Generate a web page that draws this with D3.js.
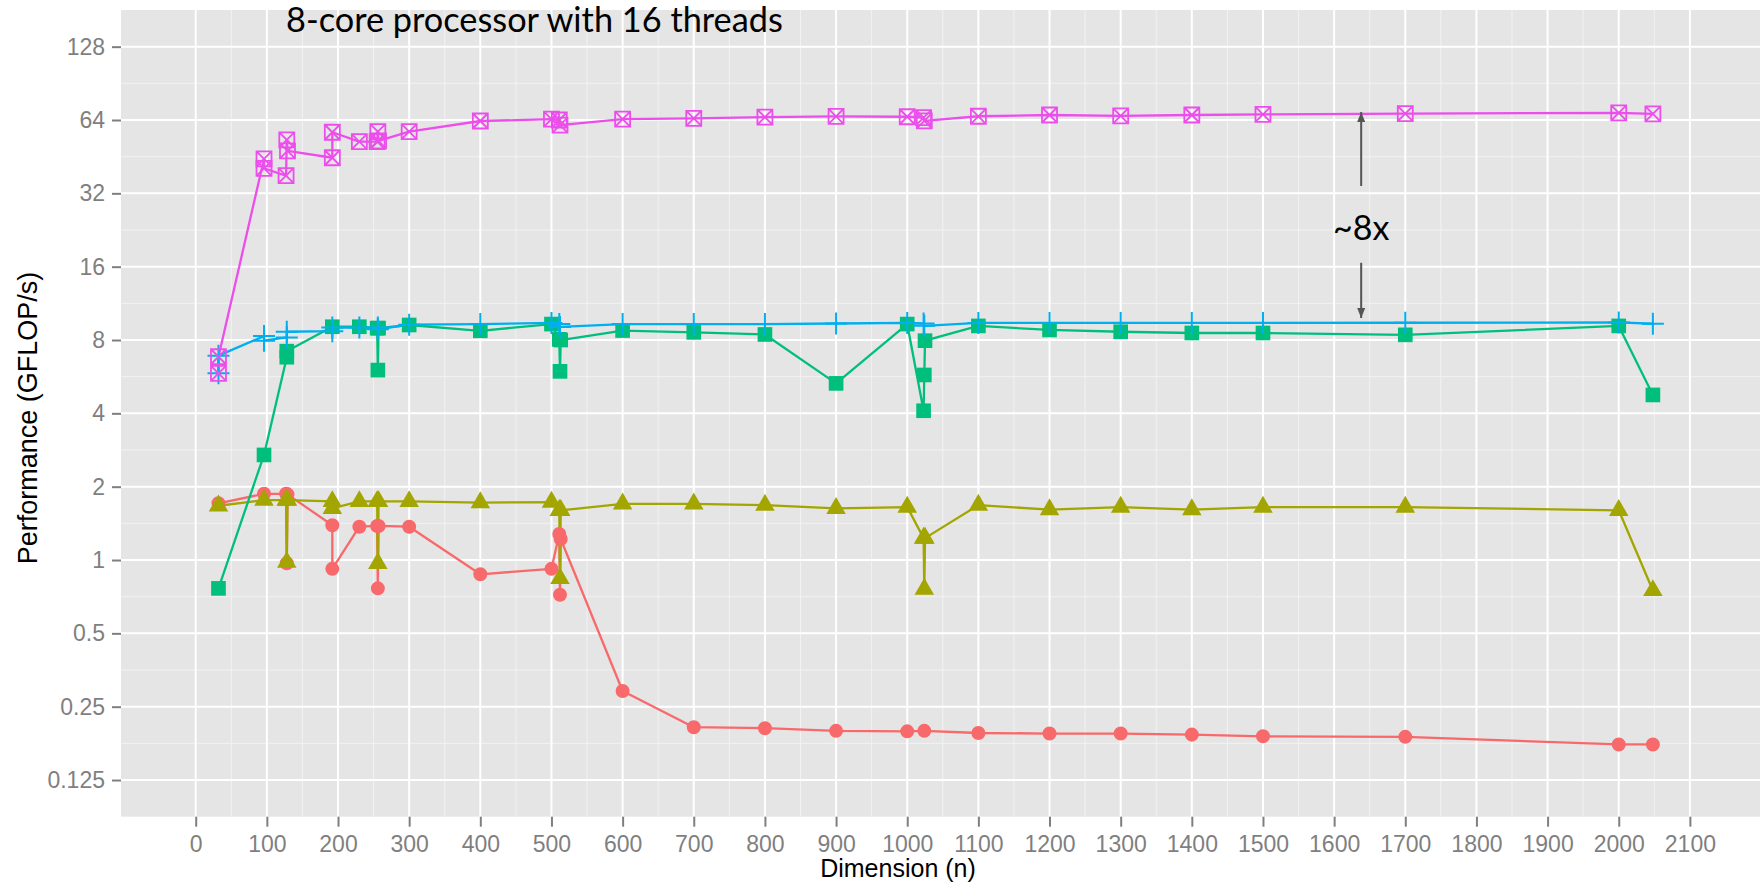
<!DOCTYPE html>
<html>
<head>
<meta charset="utf-8">
<script src="https://cdn.jsdelivr.net/npm/d3@7"></script>
<style>
  html, body { margin: 0; padding: 0; background: #fff; }
  svg { display: block; }
</style>
</head>
<body>
<div id="chart"></div>
<script>
// =====================================================
// DATA
// =====================================================

const titleText = "8-core processor with 16 threads";
const xTitle = "Dimension (n)";
const yTitle = "Performance (GFLOP/s)";
const ratioLabel = "~8x";

const xTickValues = [0, 100, 200, 300, 400, 500, 600, 700, 800, 900, 1000,
  1100, 1200, 1300, 1400, 1500, 1600, 1700, 1800, 1900, 2000, 2100];
const yTickValues = [0.125, 0.25, 0.5, 1, 2, 4, 8, 16, 32, 64, 128];

// red circles
const circleN = [32, 96, 127, 128, 129, 192, 192, 230, 255, 256, 257, 300, 400, 500,
  511, 512, 513, 600, 700, 800, 900, 1000, 1024, 1100, 1200, 1300, 1400, 1500, 1700, 2000, 2048];
const circlePerf = [1.71, 1.87, 1.87, 0.97, 1.86, 1.39, 0.92, 1.37, 1.38, 0.765, 1.38, 1.37, 0.874, 0.92,
  1.28, 0.72, 1.22, 0.29, 0.206, 0.204, 0.199, 0.198, 0.199, 0.195, 0.194, 0.194, 0.192, 0.189, 0.188, 0.175, 0.175];

// olive triangles
const triangleN = [32, 96, 127, 128, 129, 192, 192, 230, 255, 256, 257, 300, 400, 500,
  511, 512, 513, 600, 700, 800, 900, 1000, 1023, 1024, 1025, 1100, 1200, 1300, 1400, 1500, 1700, 2000, 2048];
const trianglePerf = [1.67, 1.76, 1.76, 0.98, 1.76, 1.74, 1.63, 1.74, 1.74, 0.97, 1.74, 1.74, 1.72, 1.73,
  1.6, 0.84, 1.6, 1.7, 1.7, 1.68, 1.63, 1.65, 1.23, 0.76, 1.23, 1.68, 1.61, 1.65, 1.61, 1.65, 1.65, 1.6, 0.75];

// green squares
const squareN = [32, 96, 128, 128, 192, 230, 255, 256, 257, 300, 400, 500,
  511, 512, 513, 600, 700, 800, 900, 1000, 1023, 1024, 1025, 1100, 1200, 1300, 1400, 1500, 1700, 2000, 2048];
const squarePerf = [0.765, 2.7, 6.8, 7.2, 9.07, 9.07, 8.95, 6.02, 8.95, 9.22, 8.73, 9.3,
  8.05, 5.95, 8.0, 8.75, 8.6, 8.43, 5.31, 9.3, 4.1, 5.75, 7.95, 9.14, 8.8, 8.65, 8.55, 8.55, 8.4, 9.14, 4.76];

// blue plus signs
const plusN = [32, 32, 96, 96, 128, 128, 192, 192, 230, 256, 256, 300, 400, 500,
  511, 512, 600, 700, 800, 900, 1000, 1023, 1024, 1100, 1200, 1300, 1400, 1500, 1700, 2000, 2048];
const plusPerf = [5.85, 6.9, 8.3, 7.95, 8.2, 8.65, 8.7, 9.0, 9.0, 9.0, 8.85, 9.25, 9.3, 9.4,
  9.3, 9.05, 9.3, 9.3, 9.3, 9.35, 9.4, 9.35, 9.15, 9.4, 9.4, 9.4, 9.4, 9.4, 9.42, 9.45, 9.33];

// magenta boxed crosses
const boxN = [32, 32, 96, 96, 127, 128, 129, 192, 192, 230, 255, 256, 257, 300, 400, 500,
  511, 512, 600, 700, 800, 900, 1000, 1023, 1024, 1100, 1200, 1300, 1400, 1500, 1700, 2000, 2048];
const boxPerf = [5.84, 6.83, 44.3, 40.5, 37.8, 53, 47.8, 44.8, 57, 52.2, 52.2, 57.3, 52.5, 57.3, 63.4, 64.5,
  64, 61, 64.5, 65, 65.8, 66.2, 66, 65.5, 63.5, 66.3, 67.1, 66.6, 67.1, 67.5, 68, 68.5, 67.8];

const seriesColors = ["#F8696B", "#A3A500", "#00BF7D", "#00AFF0", "#EC4EEC"];

// "~8x" annotation, in data units
const arrowN = 1638;
const arrowUp = [34.3, 69];     // from, to
const arrowDown = [16.6, 9.85]; // from, to
const ratioLabelPerf = 20.6;

// =====================================================
// LAYOUT
// =====================================================

const W = 1760, H = 885;
const panelLeft = 121, panelTop = 10, panelBottom = 816.7, panelRight = 1764.6;

const svg = d3.select("#chart").append("svg")
  .attr("width", W)
  .attr("height", H);

// ggplot-style 5% expansion around 0..2100 and 0.125..128
const xSpan = xTickValues[xTickValues.length - 1] - xTickValues[0];
const x = d3.scaleLinear()
  .domain([xTickValues[0] - xSpan * 0.05, xTickValues[xTickValues.length - 1] + xSpan * 0.05])
  .range([panelLeft, panelRight]);

const yPad = Math.pow(2, (Math.log2(yTickValues[yTickValues.length - 1]) - Math.log2(yTickValues[0])) * 0.05);
const y = d3.scaleLog().base(2)
  .domain([yTickValues[0] / yPad, yTickValues[yTickValues.length - 1] * yPad])
  .range([panelBottom, panelTop]);

// =====================================================
// PANEL + GRID
// =====================================================

svg.append("rect")
  .attr("x", panelLeft)
  .attr("y", panelTop)
  .attr("width", panelRight - panelLeft)
  .attr("height", panelBottom - panelTop)
  .attr("fill", "#E5E5E5");

const grid = svg.append("g");

const xMinor = xTickValues.slice(0, -1).map(v => v + 50);
const yMinor = yTickValues.slice(0, -1).map(v => v * Math.SQRT2);

grid.selectAll("line.xminor").data(xMinor).enter().append("line")
  .attr("x1", d => x(d)).attr("x2", d => x(d))
  .attr("y1", panelTop).attr("y2", panelBottom)
  .attr("stroke", "#F2F2F2").attr("stroke-width", 1);

grid.selectAll("line.yminor").data(yMinor).enter().append("line")
  .attr("x1", panelLeft).attr("x2", panelRight)
  .attr("y1", d => y(d)).attr("y2", d => y(d))
  .attr("stroke", "#F2F2F2").attr("stroke-width", 1);

grid.selectAll("line.xmajor").data(xTickValues).enter().append("line")
  .attr("x1", d => x(d)).attr("x2", d => x(d))
  .attr("y1", panelTop).attr("y2", panelBottom)
  .attr("stroke", "#fff").attr("stroke-width", 2);

grid.selectAll("line.ymajor").data(yTickValues).enter().append("line")
  .attr("x1", panelLeft).attr("x2", panelRight)
  .attr("y1", d => y(d)).attr("y2", d => y(d))
  .attr("stroke", "#fff").attr("stroke-width", 2);

// =====================================================
// AXES
// =====================================================

const axisFont = "'Liberation Sans', Arial, Helvetica, sans-serif";

const xAxis = svg.append("g")
  .attr("transform", `translate(0,${panelBottom})`)
  .call(d3.axisBottom(x).tickValues(xTickValues).tickSize(10).tickPadding(9).tickFormat(d3.format("d")));

const yAxis = svg.append("g")
  .attr("transform", `translate(${panelLeft},0)`)
  .call(d3.axisLeft(y).tickValues(yTickValues).tickSize(9).tickPadding(7).tickFormat(d => String(d)));

[xAxis, yAxis].forEach(ax => {
  ax.select(".domain").remove();
  ax.selectAll(".tick line").attr("stroke", "#7F7F7F").attr("stroke-width", 2);
  ax.selectAll(".tick text")
    .attr("fill", "#7F7F7F")
    .style("font-family", axisFont)
    .style("font-size", "23px");
});

svg.append("text")
  .attr("x", 898)
  .attr("y", 877)
  .attr("text-anchor", "middle")
  .style("font-family", axisFont)
  .style("font-size", "25px")
  .attr("fill", "#000")
  .text(xTitle);

svg.append("text")
  .attr("transform", "translate(37,418) rotate(-90)")
  .attr("text-anchor", "middle")
  .style("font-family", axisFont)
  .style("font-size", "27px")
  .attr("fill", "#000")
  .text(yTitle);

// =====================================================
// SERIES
// =====================================================

const shapePath = {
  circle: d3.symbol(d3.symbolCircle, 154)(),
  triangle: d3.symbol(d3.symbolTriangle, 165)(),
  square: d3.symbol(d3.symbolSquare, 215)(),
  plus: "M-11,0H11M0,-11V11",
  boxcross: "M-7.5,-7.5H7.5V7.5H-7.5Z M-7.5,-7.5L7.5,7.5M7.5,-7.5L-7.5,7.5",
};

const series = [
  { n: circleN, perf: circlePerf, color: seriesColors[0], shape: "circle", filled: true },
  { n: triangleN, perf: trianglePerf, color: seriesColors[1], shape: "triangle", filled: true },
  { n: squareN, perf: squarePerf, color: seriesColors[2], shape: "square", filled: true },
  { n: plusN, perf: plusPerf, color: seriesColors[3], shape: "plus", filled: false },
  { n: boxN, perf: boxPerf, color: seriesColors[4], shape: "boxcross", filled: false },
].map(s => Object.assign(s, { pts: s.n.map((v, i) => [v, s.perf[i]]) }));

const line = d3.line().x(d => x(d[0])).y(d => y(d[1]));

// lines first (ggplot draws the line layer under the point layer)
svg.append("g").selectAll("path").data(series).enter().append("path")
  .attr("d", s => line(s.pts))
  .attr("fill", "none")
  .attr("stroke", s => s.color)
  .attr("stroke-width", 2.3)
  .attr("stroke-linejoin", "round");

series.forEach(s => {
  svg.append("g").selectAll("path").data(s.pts).enter().append("path")
    .attr("transform", d => `translate(${x(d[0])},${y(d[1])})`)
    .attr("d", shapePath[s.shape])
    .attr("fill", s.filled ? s.color : "none")
    .attr("stroke", s.filled ? "none" : s.color)
    .attr("stroke-width", s.shape === "plus" ? 2 : 1.8);
});

// =====================================================
// ANNOTATIONS
// =====================================================

svg.append("defs").append("marker")
  .attr("id", "arrowHead")
  .attr("viewBox", "0 0 10 8")
  .attr("refX", 10)
  .attr("refY", 4)
  .attr("markerWidth", 11)
  .attr("markerHeight", 8)
  .attr("markerUnits", "userSpaceOnUse")
  .attr("orient", "auto")
  .append("path")
  .attr("d", "M0,0L10,4L0,8Z")
  .attr("fill", "#555");

[arrowUp, arrowDown].forEach(a => {
  svg.append("line")
    .attr("x1", x(arrowN)).attr("x2", x(arrowN))
    .attr("y1", y(a[0])).attr("y2", y(a[1]))
    .attr("stroke", "#555")
    .attr("stroke-width", 2)
    .attr("marker-end", "url(#arrowHead)");
});

svg.append("text")
  .attr("x", x(arrowN))
  .attr("y", y(ratioLabelPerf))
  .attr("text-anchor", "middle")
  .style("font-family", "Lato, 'Open Sans', sans-serif")
  .style("font-size", "34px")
  .attr("fill", "#000")
  .text(ratioLabel);

// title sits on top of the panel, sized to the width seen in the picture
const title = svg.append("text")
  .attr("x", 286)
  .attr("y", 32)
  .style("font-family", "Lato, 'Open Sans', sans-serif")
  .style("font-size", "30px")
  .attr("fill", "#000")
  .text(titleText);
const titleLen = title.node().getComputedTextLength();
title.style("font-size", (30 * 497 / titleLen) + "px");
</script>
</body>
</html>
